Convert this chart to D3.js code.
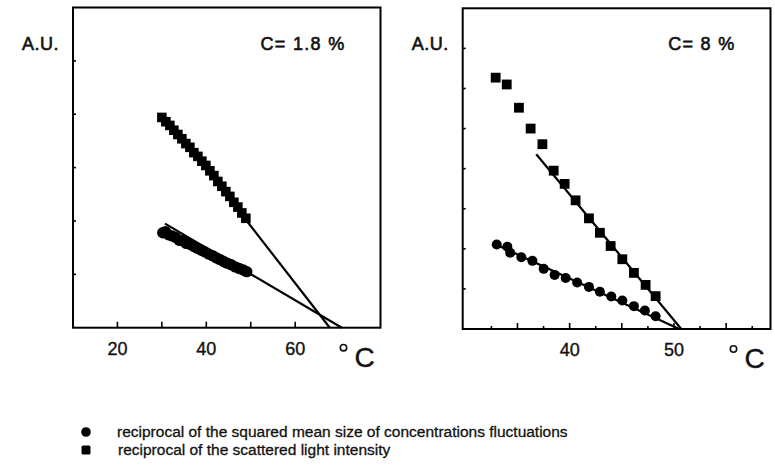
<!DOCTYPE html>
<html>
  <head>
    <meta http-equiv="Content-Type" content="text/html;charset=utf-8">
    <title>Reciprocal intensity vs temperature</title>
    <script type="text/javascript" src="https://d3js.org/d3.v7.min.js"></script>
    <style>
      body {
        margin: 0;
        background: #fff;
        font-family: 'Liberation Sans', Arial, Helvetica, sans-serif;
      }
      .frame { fill: none; stroke: #000; stroke-width: 2px; }
      .tick { stroke: #000; stroke-width: 1.6px; }
      .fit { stroke: #000; stroke-width: 2.2px; fill: none; }
      text { fill: #111; stroke: #111; stroke-width: 0.35px; }
      .ticklabel { font-size: 18px; }
      .panel-title { font-size: 18px; stroke-width: 0.6px; }
      .legend { font-size: 15.5px; stroke-width: 0.3px; }
    </style>
  </head>
  <body>
    <div id="chart"></div>
    <script>
// values: [temperature °C, A.U.]

// C = 1.8 %
var leftSquares = [[30.0,3.94],[30.9,3.86],[31.8,3.79],[32.7,3.70],[33.6,3.62],[34.5,3.54],[35.4,3.45],[36.3,3.38],
  [37.2,3.28],[38.1,3.21],[39.0,3.12],[39.9,3.04],[40.8,2.94],[41.7,2.85],[42.6,2.74],[43.5,2.65],[44.4,2.55],
  [45.3,2.46],[46.2,2.35],[47.1,2.26],[48.0,2.15],[48.9,2.05]];
var leftCircles = [[30.2,1.78],[30.8,1.80],[31.5,1.74],[32.3,1.72],[33.1,1.69],[33.9,1.64],[34.7,1.63],[35.5,1.58],
  [36.4,1.56],[37.2,1.52],[38.0,1.49],[38.9,1.45],[39.7,1.42],[40.5,1.38],[41.4,1.35],[42.2,1.31],[43.0,1.28],
  [43.9,1.24],[44.7,1.21],[45.6,1.18],[46.5,1.14],[47.4,1.11],[48.3,1.08],[49.1,1.05]];
var leftSquareFit = [[49.2,1.99],[67.8,0]];
var leftCircleFit = [[30.7,1.95],[70.5,0]];

// C = 8 %
var rightSquares = [[32.91,6.27],[33.97,6.10],[35.14,5.52],[36.26,5.00],[37.39,4.61],[38.47,3.95],[39.52,3.62],
  [40.57,3.21],[41.85,2.76],[42.90,2.40],[43.93,2.07],[45.05,1.74],[46.16,1.40],[47.28,1.10],[48.24,0.82]];
var rightCircles = [[33.01,2.11],[34.03,2.05],[34.30,1.90],[35.37,1.79],[36.43,1.70],[37.51,1.50],[38.56,1.35],
  [39.62,1.27],[40.72,1.16],[41.85,1.05],[42.90,0.93],[43.99,0.81],[45.05,0.71],[46.16,0.57],[47.21,0.46],[48.24,0.32]];
var rightSquareFit = [[36.8,4.36],[50.7,0]];
var rightCircleFit = [[33.0,2.10],[50.5,0]];

// axes
var leftXTicks = [20, 30, 40, 50, 60];
var leftXLabels = [20, 40, 60];
var leftYTicks = [1, 2, 3, 4, 5];
var rightXTicks = [32.5, 35, 37.5, 40, 42.5, 45, 47.5, 50, 52.5, 55, 57.5];
var rightXMajor = [35, 40, 45, 50, 55];
var rightXLabels = [40, 50];
var rightYTicks = [1, 2, 3, 4, 5, 6, 7];

var titles = ["C= 1.8 %", "C= 8 %"];
var legendLabels = ["reciprocal of the squared mean size of concentrations fluctuations",
                    "reciprocal of the scattered light intensity"];

var width = 775, height = 469;

var svg = d3.select("#chart").append("svg")
    .attr("width", width)
    .attr("height", height);

var panels = [
  { x0: 73, x1: 380.5, y0: 7.5, y1: 327.7, xdom: [10, 79.2], ydom: [0, 6],
    xticks: leftXTicks, xmajor: leftXTicks, xlabels: leftXLabels, yticks: leftYTicks,
    squares: leftSquares, circles: leftCircles, fits: [leftSquareFit, leftCircleFit], title: titles[0],
    sq: 9.6, r: 5.7 },
  { x0: 462.7, x1: 770.5, y0: 8.3, y1: 329, xdom: [29.75, 59.25], ydom: [0, 8],
    xticks: rightXTicks, xmajor: rightXMajor, xlabels: rightXLabels, yticks: rightYTicks,
    squares: rightSquares, circles: rightCircles, fits: [rightSquareFit, rightCircleFit], title: titles[1],
    sq: 9.8, r: 5 }
];

panels.forEach(function(p) {
  var x = d3.scaleLinear().domain(p.xdom).range([p.x0, p.x1]);
  var y = d3.scaleLinear().domain(p.ydom).range([p.y1, p.y0]);
  var g = svg.append("g");

  // x ticks point inward from the bottom
  g.selectAll(".xt").data(p.xticks).enter().append("line")
    .attr("class", "tick")
    .attr("x1", function(d) { return x(d); })
    .attr("x2", function(d) { return x(d); })
    .attr("y1", p.y1)
    .attr("y2", function(d) { return p.y1 - (p.xmajor.indexOf(d) >= 0 ? 6 : 3); });

  g.selectAll(".yt").data(p.yticks).enter().append("line")
    .attr("class", "tick")
    .attr("x1", p.x0)
    .attr("x2", p.x0 + 3)
    .attr("y1", function(d) { return y(d); })
    .attr("y2", function(d) { return y(d); });

  g.selectAll(".xl").data(p.xlabels).enter().append("text")
    .attr("class", "ticklabel")
    .attr("x", function(d) { return x(d); })
    .attr("y", p.y1 + 27)
    .attr("text-anchor", "middle")
    .text(function(d) { return d; });

  var line = d3.line().x(function(d) { return x(d[0]); }).y(function(d) { return y(d[1]); });
  g.selectAll(".fit").data(p.fits).enter().append("path")
    .attr("class", "fit")
    .attr("d", line);

  g.selectAll(".sq").data(p.squares).enter().append("rect")
    .attr("x", function(d) { return x(d[0]) - p.sq / 2; })
    .attr("y", function(d) { return y(d[1]) - p.sq / 2; })
    .attr("width", p.sq)
    .attr("height", p.sq)
    .attr("fill", "#000");

  g.selectAll(".ci").data(p.circles).enter().append("circle")
    .attr("cx", function(d) { return x(d[0]); })
    .attr("cy", function(d) { return y(d[1]); })
    .attr("r", p.r)
    .attr("fill", "#000");

  g.append("rect")
    .attr("class", "frame")
    .attr("x", p.x0).attr("y", p.y0)
    .attr("width", p.x1 - p.x0).attr("height", p.y1 - p.y0);

  g.append("text")
    .attr("class", "panel-title")
    .attr("x", p.x0 - 51)
    .attr("y", 50)
    .attr("letter-spacing", 0.5)
    .text("A.U.");

  g.append("text")
    .attr("class", "panel-title")
    .attr("x", p.x1 - 35)
    .attr("y", 50)
    .attr("text-anchor", "end")
    .attr("letter-spacing", 1.3)
    .text(p.title);

  // degree sign and C
  g.append("circle")
    .attr("cx", p.x1 - 37)
    .attr("cy", p.y1 + 20)
    .attr("r", 3.2)
    .attr("fill", "none")
    .attr("stroke", "#111")
    .attr("stroke-width", 1.6);
  g.append("text")
    .attr("x", p.x1 - 26)
    .attr("y", p.y1 + 39)
    .attr("font-size", 28)
    .text("C");
});

// legend
var leg = svg.append("g");
leg.append("circle").attr("cx", 86).attr("cy", 432).attr("r", 4.8).attr("fill", "#000");
leg.append("rect").attr("x", 81.5).attr("y", 445.5).attr("width", 9).attr("height", 9).attr("rx", 1.5).attr("fill", "#000");
leg.selectAll(".legend").data(legendLabels).enter().append("text")
  .attr("class", "legend")
  .attr("x", function(d, i) { return 117 + i; })
  .attr("y", function(d, i) { return 437 + i * 18; })
  .text(function(d) { return d; });
    </script>
  </body>
</html>
